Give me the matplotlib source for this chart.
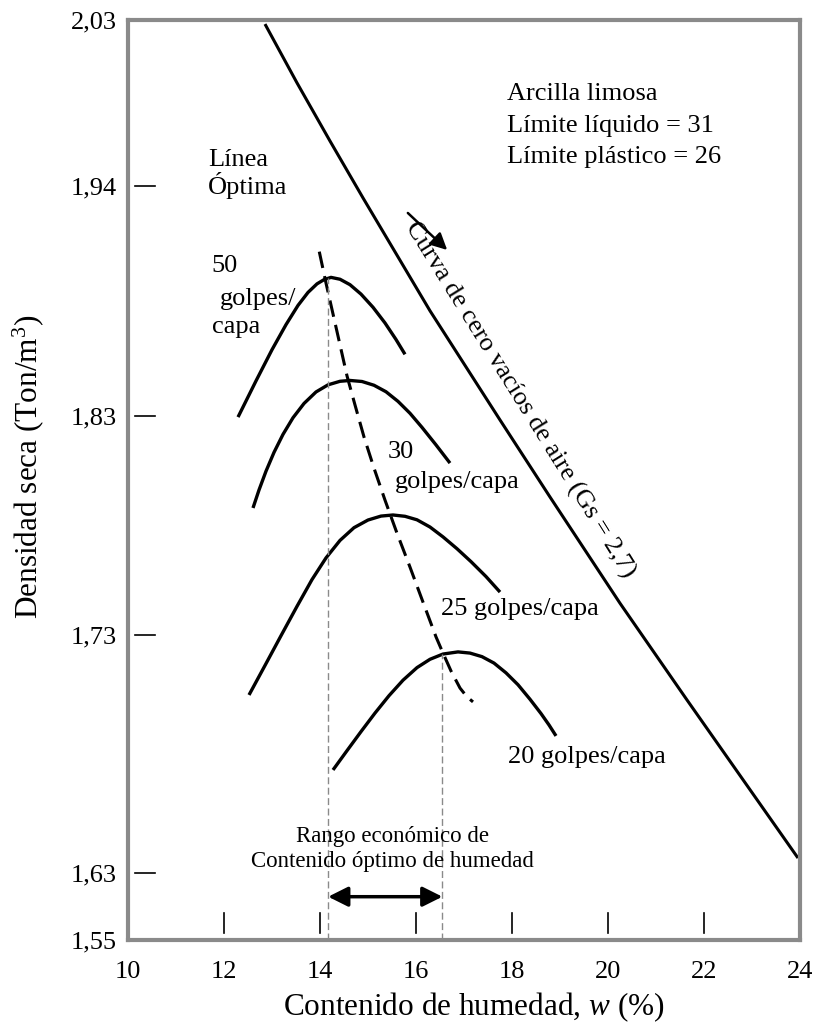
import numpy as np
import matplotlib
matplotlib.use('Agg')
import matplotlib.pyplot as plt
from matplotlib.transforms import blended_transform_factory

plt.rcParams['font.family'] = 'Liberation Serif'
plt.rcParams['mathtext.fontset'] = 'custom'
plt.rcParams['mathtext.rm'] = 'Liberation Serif'
plt.rcParams['mathtext.it'] = 'Liberation Serif:italic'
plt.rcParams['lines.scale_dashes'] = False

# irregular density axis of the original drawing
y_tick_vals = [1.55, 1.63, 1.73, 1.83, 1.94, 2.03]
y_tick_labels = ['1,55', '1,63', '1,73', '1,83', '1,94', '2,03']
y_tick_height = [0, 67, 305, 524, 754, 920]
x_ticks = [10, 12, 14, 16, 18, 20, 22, 24]
x_marks = [12, 14, 16, 18, 20, 22]
y_marks = [1.63, 1.73, 1.83, 1.94]

# zero air voids curve (Gs = 2,7)
zav_w = [12.854, 13.521, 14.208, 14.896, 16.292, 17.75, 18.792, 20.25, 21.646, 23.021, 23.958]
zav_d = [2.0278, 1.9959, 1.9644, 1.9343, 1.8803, 1.8282, 1.7930, 1.7445, 1.7027, 1.6632, 1.6363]

# compaction curves
c50_w = [12.292, 12.667, 13.0, 13.292, 13.542, 13.75, 13.9375, 14.083, 14.229, 14.417,
         14.625, 14.854, 15.104, 15.354, 15.583, 15.771]
c50_d = [1.8295, 1.8468, 1.8617, 1.8737, 1.8829, 1.8891, 1.8932, 1.8952, 1.8963, 1.8954,
         1.8928, 1.8883, 1.8820, 1.8745, 1.8666, 1.8595]
c30_w = [12.604, 12.729, 12.875, 13.042, 13.229, 13.4375, 13.667, 13.917, 14.167, 14.417,
         14.625, 14.875, 15.125, 15.375, 15.625, 15.875, 16.125, 16.417, 16.708]
c30_d = [1.7880, 1.7962, 1.8048, 1.8134, 1.8216, 1.8292, 1.8360, 1.8415, 1.8449, 1.8466,
         1.8470, 1.8465, 1.8447, 1.8416, 1.8370, 1.8313, 1.8248, 1.8168, 1.8085]
c25_w = [12.521, 12.854, 13.1875, 13.521, 13.833, 14.125, 14.417, 14.708, 15.0, 15.271,
         15.521, 15.771, 16.021, 16.292, 16.5625, 16.854, 17.146, 17.458, 17.75]
c25_d = [1.7048, 1.7172, 1.7297, 1.7431, 1.7553, 1.7652, 1.7732, 1.7790, 1.7825, 1.7843,
         1.7848, 1.7842, 1.7826, 1.7793, 1.7748, 1.7694, 1.7635, 1.7567, 1.7496]
c20_w = [14.271, 14.5625, 14.854, 15.146, 15.4375, 15.729, 16.021, 16.292, 16.5625, 16.875,
         17.125, 17.375, 17.625, 17.875, 18.125, 18.375, 18.604, 18.771, 18.917]
c20_d = [1.6733, 1.6814, 1.6894, 1.6972, 1.7045, 1.7110, 1.7163, 1.7198, 1.7220, 1.7229,
         1.7224, 1.7209, 1.7182, 1.7141, 1.7091, 1.7030, 1.6970, 1.6922, 1.6876]

# line of optimum
opt_w = [13.985, 14.125, 14.271, 14.417, 14.5625, 14.729, 14.917, 15.125, 15.354, 15.604,
         15.875, 16.146, 16.417, 16.5625, 16.729, 16.917, 17.0625, 17.1875]
opt_d = [1.9086, 1.8936, 1.8788, 1.8640, 1.8492, 1.8353, 1.8204, 1.8062, 1.7916, 1.7765,
         1.7610, 1.7450, 1.7292, 1.7224, 1.7149, 1.7077, 1.7040, 1.7019]

# economic range of optimum moisture
w_low, d_low_peak = 14.17, 1.8958
w_high, d_high_peak = 16.55, 1.7222
range_d = 1.6017


def fwd(y):
    return np.interp(y, y_tick_vals, y_tick_height)


def inv(h):
    return np.interp(h, y_tick_height, y_tick_vals)


fig = plt.figure(figsize=(8.22, 10.25), dpi=100)
ax = fig.add_axes([128/822, 85/1025, 672/822, 920/1025])
ax.set_yscale('function', functions=(fwd, inv))
ax.set_xlim(10, 24)
ax.set_ylim(1.55, 2.03)

for s in ax.spines.values():
    s.set_color('#8a8a8a')
    s.set_linewidth(3)

ax.set_xticks(x_ticks)
ax.set_xticklabels([str(t) for t in x_ticks])
ax.set_yticks(y_tick_vals)
ax.set_yticklabels(y_tick_labels)
ax.yaxis.set_minor_locator(matplotlib.ticker.NullLocator())
ax.tick_params(axis='x', length=0, pad=15, labelsize=19)
ax.tick_params(axis='y', length=0, pad=8, labelsize=19)

# short tick marks drawn inside the frame
tx = blended_transform_factory(ax.transData, ax.transAxes)
for w in x_marks:
    ax.plot([w, w], [0.0076, 0.0293], color='k', lw=1.2, transform=tx)
ty = blended_transform_factory(ax.transAxes, ax.transData)
for d in y_marks:
    ax.plot([0.011, 0.040], [d, d], color='k', lw=1.2, transform=ty)

ax.plot(zav_w, zav_d, color='k', lw=2.2, solid_capstyle='butt', solid_joinstyle='round')
for cw, cd in [(c50_w, c50_d), (c30_w, c30_d), (c25_w, c25_d), (c20_w, c20_d)]:
    ax.plot(cw, cd, color='k', lw=2.4, solid_capstyle='butt', solid_joinstyle='round')
ax.plot(opt_w, opt_d, color='k', lw=2.2, dashes=(12, 6))

ax.plot([w_low, w_low], [1.55, d_low_peak], color='#8a8a8a', lw=1, dashes=(5, 2.5))
ax.plot([w_high, w_high], [1.55, d_high_peak], color='#8a8a8a', lw=1, dashes=(5, 2.5))
ax.annotate('', xy=(w_low, range_d), xytext=(w_high, range_d),
            arrowprops=dict(arrowstyle='<|-|>', color='k', lw=2.5,
                            mutation_scale=30, shrinkA=0, shrinkB=0))
ax.annotate('', xy=(16.65, 1.9094), xytext=(15.83, 1.9271),
            arrowprops=dict(arrowstyle='-|>', color='k', lw=1.8,
                            mutation_scale=25, shrinkA=0, shrinkB=0))

fs = 19
ax.text(11.67, 1.951, 'Línea', fontsize=fs)
ax.text(11.67, 1.936, 'Óptima', fontsize=fs)
ax.text(17.90, 1.9866, 'Arcilla limosa', fontsize=fs)
ax.text(17.90, 1.9695, 'Límite líquido = 31', fontsize=fs)
ax.text(17.90, 1.9523, 'Límite plástico = 26', fontsize=fs)
ax.text(11.74, 1.899, '50', fontsize=fs)
ax.text(11.92, 1.8831, 'golpes/', fontsize=fs)
ax.text(11.74, 1.8696, 'capa', fontsize=fs)
ax.text(15.42, 1.8107, '30', fontsize=fs)
ax.text(15.56, 1.797, 'golpes/capa', fontsize=fs)
ax.text(16.53, 1.739, '25 golpes/capa', fontsize=fs)
ax.text(17.92, 1.6764, '20 golpes/capa', fontsize=fs)
ax.text(15.51, 1.6432, 'Rango económico de', fontsize=16.5, ha='center')
ax.text(15.51, 1.6324, 'Contenido óptimo de humedad', fontsize=16.5, ha='center')
ax.text(18.17, 1.8377, 'Curva de cero vacíos de aire (Gs = 2,7)', fontsize=19,
        rotation=-58, rotation_mode='anchor', ha='center', va='center')

fig.text(474/822, 1 - 1015/1025, 'Contenido de humedad, $w$ (%)', fontsize=22.5,
         ha='center', va='baseline')
fig.text(28/822, 1 - 467/1025, 'Densidad seca (Ton/m$^3$)', fontsize=22.5,
         ha='center', va='center', rotation=90)

fig.savefig('out.png', dpi=100)
